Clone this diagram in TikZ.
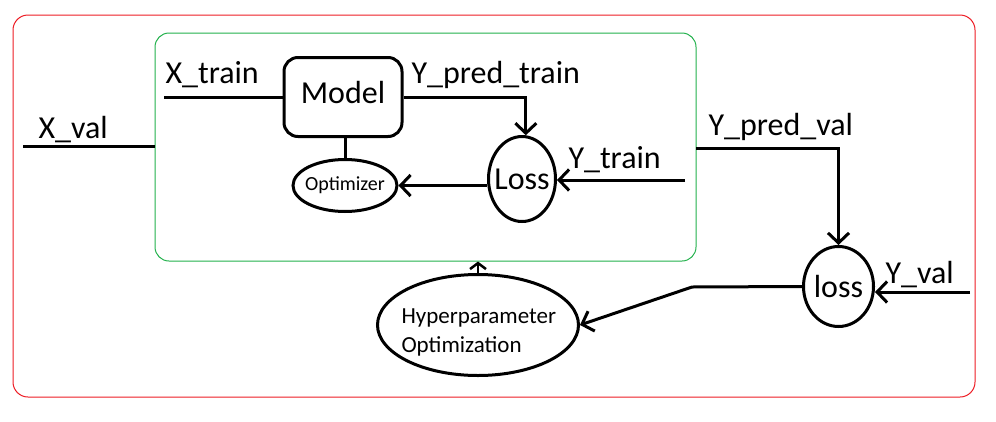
\documentclass[tikz,border=0pt]{standalone}
\usepackage{fontspec}
\setmainfont{Carlito}
\usetikzlibrary{arrows.meta,shapes.geometric}
\definecolor{pred}{RGB}{237,28,36}
\definecolor{pgreen}{RGB}{34,177,76}
\begin{document}
\begin{tikzpicture}[x=1pt,y=-1pt,line width=3pt,
  tip/.style={-{Straight Barb[length=10pt,width=21pt]}},
  smalltip/.style={-{Straight Barb[length=6pt,width=16pt]}},
  lbl/.style={anchor=base west,inner sep=0pt,font=\fontsize{32}{38}\selectfont},
  oval/.style={draw,ellipse,inner sep=0pt}]
\useasboundingbox (0,0) rectangle (996,421);
\node[draw=pred,line width=1pt,rounded corners=15pt,minimum width=962pt,minimum height=382pt,inner sep=0pt] (outer) at (494,206) {};
\node[draw=pgreen,line width=1pt,rounded corners=14pt,minimum width=541pt,minimum height=228pt,inner sep=0pt] (inner) at (425.5,147) {};
% nodes
\node[draw,rounded corners=14pt,minimum width=118pt,minimum height=79pt,text depth=10pt,font=\fontsize{32}{38}\selectfont] (model) at (343,97) {Model};
\node[oval,minimum width=104pt,minimum height=52pt,font=\fontsize{20}{24}\selectfont] (opt) at (345,185.5) {\makebox[0pt]{Optimizer}};
\node[oval,minimum width=67pt,minimum height=85pt,font=\fontsize{32}{38}\selectfont] (lossA) at (522,179) {\makebox[0pt]{Loss}};
\node[oval,minimum width=70pt,minimum height=80pt,font=\fontsize{32}{38}\selectfont] (lossB) at (838.5,286.5) {\makebox[0pt]{loss}};
\node[oval,minimum width=201pt,minimum height=101pt] (hyper) at (478,325) {};
\node[anchor=base west,inner sep=0pt,font=\fontsize{23}{29}\selectfont] (hyperA) at (400,323) {Hyperparameter};
\node[anchor=base west,inner sep=0pt,font=\fontsize{23}{29}\selectfont] (hyperB) at (400,352) {Optimization};
% free ends
\coordinate (xvstart) at (23,146);
\coordinate (xtstart) at (164,97);
\coordinate (ytstart) at (685,180);
\coordinate (ypvstart) at (696,148);
\coordinate (yvstart) at (970,292);
\coordinate (bend) at (692,287);
% connectors
\draw (xvstart) -- (xvstart -| inner.west);
\draw (xtstart) -- (model.west |- xtstart);
\draw[tip] (model.east) -| (lossA.85);
\draw[tip] (ytstart) -- (lossA.east |- ytstart);
\draw[tip] (lossA.west |- opt.east) -- (opt.east);
\draw (opt.north) -- (opt.north |- model.south);
\draw[tip] (ypvstart) -| (lossB.north);
\draw[tip] (yvstart) -- (yvstart -| lossB.east);
\draw[tip] (lossB.west) -- (bend) -- (hyper.east);
\draw[smalltip,line width=2.5pt] (hyper.north) -- (hyper.north |- inner.south);
% labels
\node[lbl] (xvl) at (37,138) {X\_val};
\node[lbl] (xtl) at (164,83) {X\_train};
\node[lbl] (yptl) at (410,83) {Y\_pred\_train};
\node[lbl] (ytl) at (567,168) {Y\_train};
\node[lbl] (ypvl) at (707,135) {Y\_pred\_val};
\node[lbl] (yvl) at (884,283) {Y\_val};
\end{tikzpicture}
\end{document}
